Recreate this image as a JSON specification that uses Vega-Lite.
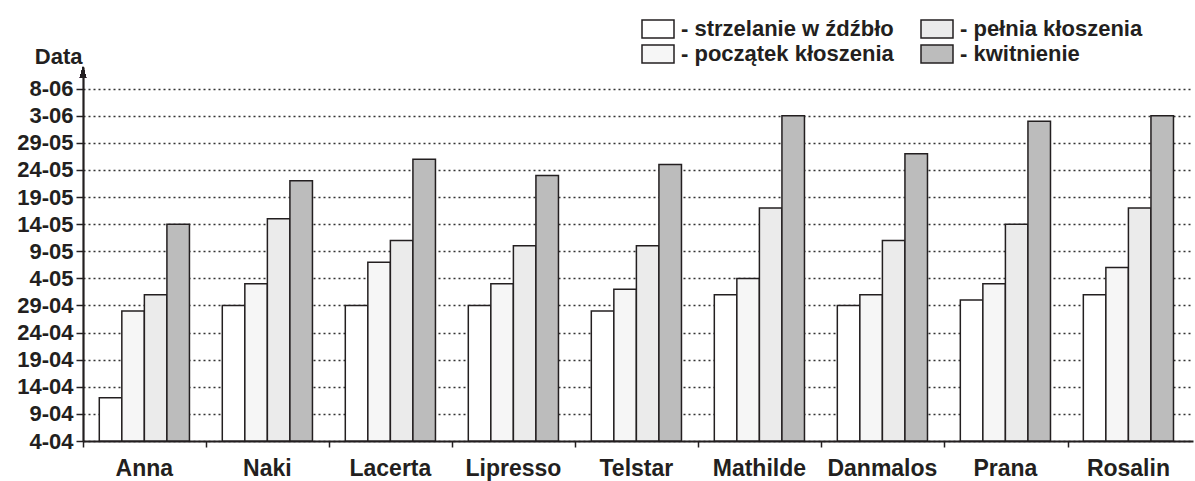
{
  "$schema": "https://vega.github.io/schema/vega-lite/v6.json",
  "autosize": "none",
  "width": 1110,
  "height": 374,
  "padding": {"left": 83, "top": 67, "right": 2, "bottom": 40},
  "background": "white",
  "config": {
    "view": {"stroke": null},
    "font": "Liberation Sans"
  },
  "data": {
    "values": [
      {"odmiana": "Anna", "faza": "strzelanie w źdźbło", "data": "2000/04/12"},
      {"odmiana": "Anna", "faza": "początek kłoszenia", "data": "2000/04/28"},
      {"odmiana": "Anna", "faza": "pełnia kłoszenia", "data": "2000/05/01"},
      {"odmiana": "Anna", "faza": "kwitnienie", "data": "2000/05/14"},
      {"odmiana": "Naki", "faza": "strzelanie w źdźbło", "data": "2000/04/29"},
      {"odmiana": "Naki", "faza": "początek kłoszenia", "data": "2000/05/03"},
      {"odmiana": "Naki", "faza": "pełnia kłoszenia", "data": "2000/05/15"},
      {"odmiana": "Naki", "faza": "kwitnienie", "data": "2000/05/22"},
      {"odmiana": "Lacerta", "faza": "strzelanie w źdźbło", "data": "2000/04/29"},
      {"odmiana": "Lacerta", "faza": "początek kłoszenia", "data": "2000/05/07"},
      {"odmiana": "Lacerta", "faza": "pełnia kłoszenia", "data": "2000/05/11"},
      {"odmiana": "Lacerta", "faza": "kwitnienie", "data": "2000/05/26"},
      {"odmiana": "Lipresso", "faza": "strzelanie w źdźbło", "data": "2000/04/29"},
      {"odmiana": "Lipresso", "faza": "początek kłoszenia", "data": "2000/05/03"},
      {"odmiana": "Lipresso", "faza": "pełnia kłoszenia", "data": "2000/05/10"},
      {"odmiana": "Lipresso", "faza": "kwitnienie", "data": "2000/05/23"},
      {"odmiana": "Telstar", "faza": "strzelanie w źdźbło", "data": "2000/04/28"},
      {"odmiana": "Telstar", "faza": "początek kłoszenia", "data": "2000/05/02"},
      {"odmiana": "Telstar", "faza": "pełnia kłoszenia", "data": "2000/05/10"},
      {"odmiana": "Telstar", "faza": "kwitnienie", "data": "2000/05/25"},
      {"odmiana": "Mathilde", "faza": "strzelanie w źdźbło", "data": "2000/05/01"},
      {"odmiana": "Mathilde", "faza": "początek kłoszenia", "data": "2000/05/04"},
      {"odmiana": "Mathilde", "faza": "pełnia kłoszenia", "data": "2000/05/17"},
      {"odmiana": "Mathilde", "faza": "kwitnienie", "data": "2000/06/03"},
      {"odmiana": "Danmalos", "faza": "strzelanie w źdźbło", "data": "2000/04/29"},
      {"odmiana": "Danmalos", "faza": "początek kłoszenia", "data": "2000/05/01"},
      {"odmiana": "Danmalos", "faza": "pełnia kłoszenia", "data": "2000/05/11"},
      {"odmiana": "Danmalos", "faza": "kwitnienie", "data": "2000/05/27"},
      {"odmiana": "Prana", "faza": "strzelanie w źdźbło", "data": "2000/04/30"},
      {"odmiana": "Prana", "faza": "początek kłoszenia", "data": "2000/05/03"},
      {"odmiana": "Prana", "faza": "pełnia kłoszenia", "data": "2000/05/14"},
      {"odmiana": "Prana", "faza": "kwitnienie", "data": "2000/06/02"},
      {"odmiana": "Rosalin", "faza": "strzelanie w źdźbło", "data": "2000/05/01"},
      {"odmiana": "Rosalin", "faza": "początek kłoszenia", "data": "2000/05/06"},
      {"odmiana": "Rosalin", "faza": "pełnia kłoszenia", "data": "2000/05/17"},
      {"odmiana": "Rosalin", "faza": "kwitnienie", "data": "2000/06/03"}
    ]
  },
  "layer": [
    {
      "mark": {"type": "bar", "stroke": "#231f20", "strokeWidth": 1.5},
      "encoding": {
        "x": {
          "field": "odmiana",
          "type": "nominal",
          "sort": null,
          "scale": {"paddingInner": 0.267, "paddingOuter": 0.1455, "align": 0.455},
          "axis": {
            "title": null,
            "labelAngle": 0,
            "labelFont": "Liberation Sans",
            "labelFontSize": 23,
            "labelFontWeight": "bold",
            "labelColor": "#231f20",
            "labelPadding": 10,
            "ticks": true,
            "tickSize": 6,
            "tickColor": "#231f20",
            "tickWidth": 1.5,
            "bandPosition": -0.17,
            "domainColor": "#231f20",
            "domainWidth": 2.2,
            "grid": false
          }
        },
        "xOffset": {
          "field": "faza",
          "type": "nominal",
          "sort": ["strzelanie w źdźbło", "początek kłoszenia", "pełnia kłoszenia", "kwitnienie"],
          "scale": {"paddingInner": 0, "paddingOuter": 0}
        },
        "y": {
          "field": "data",
          "type": "temporal",
          "scale": {
            "domain": [{"year": 2000, "month": 4, "date": 4}, {"year": 2000, "month": 6, "date": 12}],
            "nice": false
          },
          "axis": {
            "title": "Data",
            "titleAngle": 0,
            "titleAlign": "right",
            "titleBaseline": "alphabetic",
            "titleX": -1,
            "titleY": -4,
            "titleFont": "Liberation Sans",
            "titleFontSize": 22,
            "titleFontWeight": "bold",
            "titleColor": "#231f20",
            "tickCount": 40,
            "values": [
              {"year": 2000, "month": 4, "date": 4},
              {"year": 2000, "month": 4, "date": 9},
              {"year": 2000, "month": 4, "date": 14},
              {"year": 2000, "month": 4, "date": 19},
              {"year": 2000, "month": 4, "date": 24},
              {"year": 2000, "month": 4, "date": 29},
              {"year": 2000, "month": 5, "date": 4},
              {"year": 2000, "month": 5, "date": 9},
              {"year": 2000, "month": 5, "date": 14},
              {"year": 2000, "month": 5, "date": 19},
              {"year": 2000, "month": 5, "date": 24},
              {"year": 2000, "month": 5, "date": 29},
              {"year": 2000, "month": 6, "date": 3},
              {"year": 2000, "month": 6, "date": 8}
            ],
            "format": "%-d-%m",
            "labelOverlap": false,
            "labelFont": "Liberation Sans",
            "labelFontSize": 22,
            "labelFontWeight": "bold",
            "labelColor": "#231f20",
            "labelPadding": 3,
            "tickSize": 7,
            "tickColor": "#231f20",
            "tickWidth": 1.5,
            "domainColor": "#231f20",
            "domainWidth": 2.2,
            "grid": true,
            "gridColor": "#333333",
            "gridDash": [2, 3],
            "gridWidth": 1.3
          }
        },
        "y2": {"datum": {"year": 2000, "month": 4, "date": 4}},
        "fill": {
          "field": "faza",
          "type": "nominal",
          "scale": {
            "domain": ["strzelanie w źdźbło", "początek kłoszenia", "pełnia kłoszenia", "kwitnienie"],
            "range": ["#ffffff", "#f6f6f6", "#ebebeb", "#bcbcbc"]
          },
          "legend": {
            "title": null,
            "orient": "none",
            "legendX": 564,
            "legendY": -49,
            "columns": 2,
            "padding": 0,
            "symbolType": "M-1.6,-0.9H1.6V0.9H-1.6Z",
            "symbolSize": 400,
            "symbolStrokeColor": "#231f20",
            "symbolStrokeWidth": 1.5,
            "symbolOpacity": 1,
            "labelFont": "Liberation Sans",
            "labelFontSize": 22,
            "labelFontWeight": "bold",
            "labelColor": "#231f20",
            "labelOffset": 12,
            "labelLimit": 400,
            "columnPadding": 24,
            "rowPadding": 1,
            "labelExpr": "'- ' + datum.label"
          }
        }
      }
    },
    {
      "mark": {"type": "point", "shape": "M0,-1L0.55,1L-0.55,1Z", "filled": true, "color": "#231f20", "opacity": 1, "size": 130},
      "encoding": {
        "y": {"datum": {"year": 2000, "month": 6, "date": 11}, "type": "temporal"},
        "x": {"value": 0}
      }
    }
  ]
}
